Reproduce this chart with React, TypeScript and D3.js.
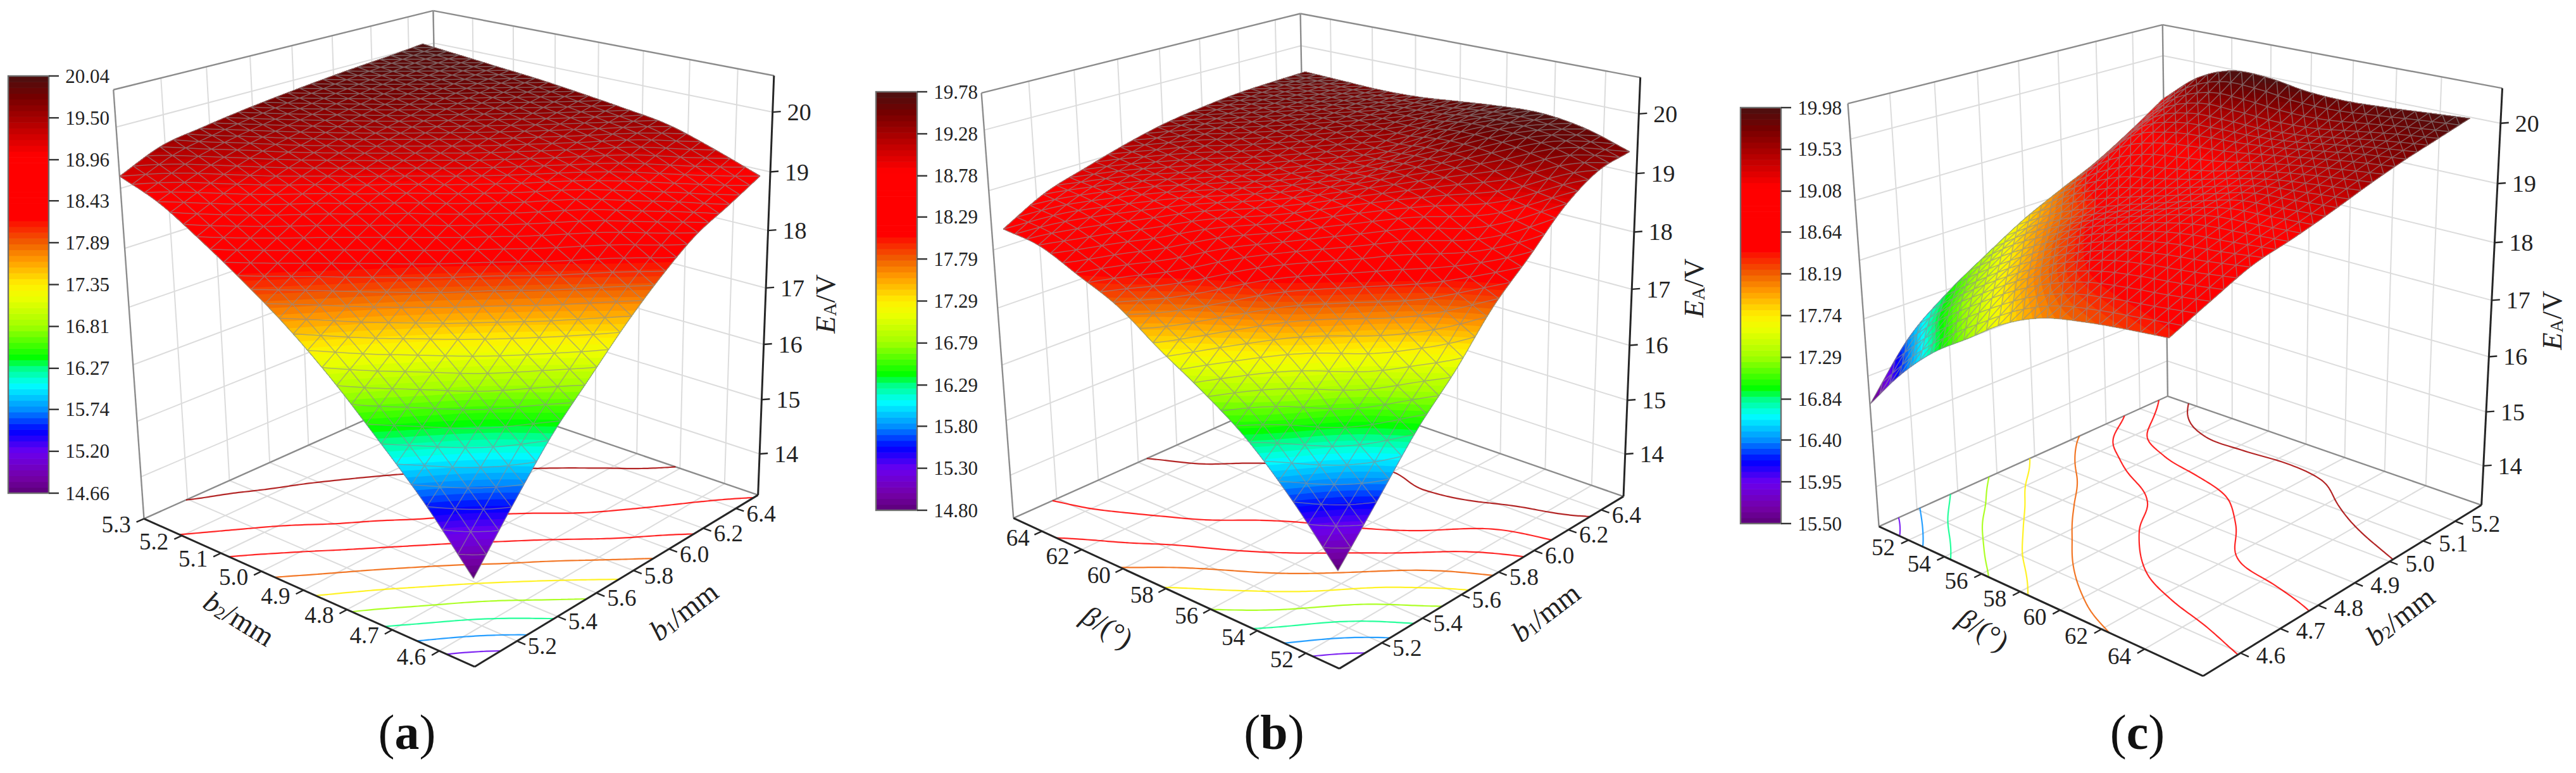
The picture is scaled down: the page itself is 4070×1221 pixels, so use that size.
import * as d3 from 'd3';

const WIDTH = 4070;
const HEIGHT = 1221;
const FONT = '"Liberation Serif", "Times New Roman", serif';

// surface values, rows run along v, columns along u
const Z_GRID_A = [
  [14.66, 15.5, 16.28, 16.9, 17.5, 18.02, 18.45, 18.72, 19.0],
  [15.55, 16.2, 16.85, 17.45, 18.0, 18.48, 18.8, 19.05, 19.28],
  [16.3, 16.9, 17.45, 18.0, 18.45, 18.85, 19.12, 19.35, 19.52],
  [17.0, 17.5, 18.0, 18.45, 18.82, 19.1, 19.32, 19.5, 19.64],
  [17.6, 18.05, 18.48, 18.85, 19.1, 19.3, 19.48, 19.62, 19.74],
  [18.1, 18.5, 18.87, 19.12, 19.32, 19.48, 19.62, 19.74, 19.83],
  [18.55, 18.88, 19.15, 19.35, 19.5, 19.62, 19.74, 19.83, 19.9],
  [18.95, 19.22, 19.42, 19.55, 19.66, 19.76, 19.84, 19.91, 19.97],
  [19.2, 19.5, 19.62, 19.72, 19.8, 19.87, 19.93, 19.98, 20.04],
];
const Z_GRID_B = [
  [14.8, 15.6, 16.4, 17.05, 17.79, 18.35, 18.93, 19.3, 19.42],
  [15.65, 16.25, 16.9, 17.55, 18.15, 18.6, 19.05, 19.5, 19.65],
  [16.35, 16.95, 17.55, 18.1, 18.6, 18.95, 19.27, 19.6, 19.75],
  [16.85, 17.45, 18.05, 18.5, 18.85, 19.1, 19.33, 19.6, 19.72],
  [17.28, 17.85, 18.4, 18.72, 18.95, 19.1, 19.28, 19.5, 19.65],
  [17.75, 18.2, 18.66, 18.88, 19.02, 19.2, 19.38, 19.5, 19.58],
  [18.05, 18.5, 18.83, 19.0, 19.15, 19.32, 19.45, 19.52, 19.56],
  [18.33, 18.7, 18.95, 19.12, 19.3, 19.42, 19.5, 19.55, 19.58],
  [18.42, 18.8, 19.02, 19.22, 19.38, 19.48, 19.55, 19.58, 19.6],
];
const Z_GRID_C = [
  [15.5, 16.25, 16.85, 17.3, 17.75, 18.05, 18.2, 18.3, 18.38],
  [16.4, 16.95, 17.4, 17.82, 18.15, 18.38, 18.5, 18.58, 18.68],
  [16.95, 17.4, 17.82, 18.17, 18.45, 18.66, 18.78, 18.86, 18.96],
  [17.38, 17.82, 18.15, 18.45, 18.68, 18.88, 19.02, 19.07, 19.12],
  [17.78, 18.13, 18.4, 18.62, 18.82, 19.02, 19.2, 19.25, 19.3],
  [18.1, 18.5, 18.78, 18.9, 19.03, 19.2, 19.33, 19.42, 19.5],
  [18.4, 18.98, 19.2, 19.28, 19.32, 19.4, 19.5, 19.6, 19.68],
  [18.78, 19.33, 19.55, 19.55, 19.52, 19.55, 19.65, 19.75, 19.83],
  [19.2, 19.72, 19.98, 19.98, 19.88, 19.85, 19.88, 19.93, 19.98],
];

const B1_TICKS = [5.2, 5.4, 5.6, 5.8, 6.0, 6.2, 6.4];
const B2_TICKS_A = [4.6, 4.7, 4.8, 4.9, 5.0, 5.1, 5.2, 5.3];
const B2_TICKS_C = [4.6, 4.7, 4.8, 4.9, 5.0, 5.1, 5.2];
const BETA_TICKS = [52, 54, 56, 58, 60, 62, 64];
const Z_TICKS = [14, 15, 16, 17, 18, 19, 20];

const BAR_A = [14.66, 15.2, 15.74, 16.27, 16.81, 17.35, 17.89, 18.43, 18.96, 19.5, 20.04];
const BAR_B = [14.8, 15.3, 15.8, 16.29, 16.79, 17.29, 17.79, 18.29, 18.78, 19.28, 19.78];
const BAR_C = [15.5, 15.95, 16.4, 16.84, 17.29, 17.74, 18.19, 18.64, 19.08, 19.53, 19.98];

const COLOR_STOPS = [0, 0.04, 0.1, 0.15, 0.2, 0.26, 0.3, 0.325, 0.4, 0.47, 0.5, 0.56, 0.6, 0.66, 0.81, 0.895, 0.95, 1];
const COLOR_VALUES = ['#5c0078', '#7500a8', '#6a00f0', '#0000ff', '#008cff', '#00ffff', '#00ff88', '#00ff00', '#a0ff00', '#eeff00', '#fff000', '#ff9a00', '#f06000', '#ff0000', '#ff0000', '#aa0000', '#750000', '#4a1010'];

const rainbow = d3.scaleLinear<string>().domain(COLOR_STOPS).range(COLOR_VALUES);

const FINE = 100;
const MESH = 25;
const BANDS = 72;

const PANELS = [
  {
    grid: Z_GRID_A,
    // [u, v, w, x, y] of the box corners, the camera is fitted to these
    corners: [[0, 0, 0, 747, 1060], [1, 0, 0, 1194, 785], [0, 1, 0, 226, 820], [1, 1, 0, 699, 608], [0, 1, 1, 179, 144], [1, 0, 1, 1225, 119], [1, 1, 1, 682, 17], [0, 0, 0.194, 753, 904]],
    uDomain: [5, 6.54], uTicks: B1_TICKS, vDomain: [4.527, 5.3], vTicks: B2_TICKS_A, zDomain: [13.23, 20.6],
    uFormat: '.1f', vFormat: '.1f',
    uEdge: 0, wallU: 1, zCorner: [1, 0], leftCorner: [0, 1], spanU: 0.96, spanV: 1,
    uLabel: [40, 8], vLabel: [-44, 9],
    uTitle: { x: 1080, y: 965, r: -37, base: 'b', sub: '1', tail: '/mm' },
    vTitle: { x: 378, y: 977, r: 32, base: 'b', sub: '2', tail: '/mm' },
    zTitle: [1304, 480],
    bar: BAR_A, barX: 13, barY: 120, barW: 64, barH: 659,
    caption: 'a', captionX: 643, captionY: 1156,
  },
  {
    grid: Z_GRID_B,
    corners: [[0, 0, 0, 2116, 1060], [1, 0, 0, 2562, 787], [0, 1, 0, 1600, 820], [1, 1, 0, 2069, 608], [0, 1, 1, 1551, 148], [1, 0, 1, 2594, 122], [1, 1, 1, 2052, 22], [0, 0, 0.216, 2115, 895]],
    uDomain: [5, 6.54], uTicks: B1_TICKS, vDomain: [50.67, 65.48], vTicks: BETA_TICKS, zDomain: [13.2, 20.6],
    uFormat: '.1f', vFormat: 'd',
    uEdge: 0, wallU: 1, zCorner: [1, 0], leftCorner: [0, 1], spanU: 0.97, spanV: 0.96,
    uLabel: [40, 8], vLabel: [-38, 10],
    uTitle: { x: 2442, y: 967, r: -37, base: 'b', sub: '1', tail: '/mm' },
    vTitle: { x: 1750, y: 990, r: 32, base: 'β', sub: '', tail: '/(°)' },
    zTitle: [2676, 455],
    bar: BAR_B, barX: 1384, barY: 145, barW: 65, barH: 661,
    caption: 'b', captionX: 2013, captionY: 1156,
  },
  {
    grid: Z_GRID_C,
    corners: [[0, 0, 0, 2969, 832], [1, 0, 0, 3480, 1068], [0, 1, 0, 3425, 626], [1, 1, 0, 3921, 797], [0, 0, 1, 2920, 163], [1, 1, 1, 3954, 140], [0, 1, 1, 3416, 39]],
    uDomain: [50.3, 66.6], uTicks: BETA_TICKS, vDomain: [4.51, 5.285], vTicks: B2_TICKS_C, zDomain: [13.26, 20.57],
    uFormat: 'd', vFormat: '.1f',
    uEdge: 1, wallU: 0, zCorner: [1, 1], leftCorner: [0, 0], spanU: 0.92, spanV: 1,
    uLabel: [-40, 11], vLabel: [48, 4],
    uTitle: { x: 3134, y: 994, r: 32, base: 'β', sub: '', tail: '/(°)' },
    vTitle: { x: 3792, y: 973, r: -37, base: 'b', sub: '2', tail: '/mm' },
    zTitle: [4032, 506],
    bar: BAR_C, barX: 2750, barY: 170, barW: 64, barH: 657,
    caption: 'c', captionX: 3377, captionY: 1156,
  },
];

// least squares fit of a 3x4 projection from the box corners
function fitCamera(corners: number[][]) {
  const ox = d3.mean(corners, (c) => c[3]) as number;
  const oy = d3.mean(corners, (c) => c[4]) as number;
  const rows: number[][] = [];
  corners.forEach(([u, v, w, px, py]) => {
    const x = (px - ox) / 1000;
    const y = (py - oy) / 1000;
    rows.push([u, v, w, 1, 0, 0, 0, 0, -x * u, -x * v, -x * w, x]);
    rows.push([0, 0, 0, 0, u, v, w, 1, -y * u, -y * v, -y * w, y]);
  });
  const n = 11;
  const m = d3.range(n).map((i) => d3.range(n + 1).map((j) => d3.sum(rows, (r) => r[i] * r[j])));
  for (let i = 0; i < n; i++) {
    let best = i;
    for (let k = i + 1; k < n; k++) if (Math.abs(m[k][i]) > Math.abs(m[best][i])) best = k;
    [m[i], m[best]] = [m[best], m[i]];
    for (let k = 0; k < n; k++) {
      if (k === i) continue;
      const f = m[k][i] / m[i][i];
      for (let j = i; j <= n; j++) m[k][j] -= f * m[i][j];
    }
  }
  const p = d3.range(n).map((i) => m[i][n] / m[i][i]);
  return (u: number, v: number, w: number): [number, number] => {
    const d = p[8] * u + p[9] * v + p[10] * w + 1;
    return [
      ((p[0] * u + p[1] * v + p[2] * w + p[3]) / d) * 1000 + ox,
      ((p[4] * u + p[5] * v + p[6] * w + p[7]) / d) * 1000 + oy,
    ];
  };
}

function catmull(a: number[], t: number) {
  const pos = t * (a.length - 1);
  const i = Math.min(Math.floor(pos), a.length - 2);
  const f = pos - i;
  const p1 = a[i];
  const p2 = a[i + 1];
  const p0 = i > 0 ? a[i - 1] : 2 * p1 - p2;
  const p3 = i + 2 < a.length ? a[i + 2] : 2 * p2 - p1;
  return 0.5 * (2 * p1 + (p2 - p0) * f + (2 * p0 - 5 * p1 + 4 * p2 - p3) * f * f + (3 * p1 - p0 - 3 * p2 + p3) * f * f * f);
}

// the typed grid is only smoothed here so the shaded surface has no facets
function refine(grid: number[][]) {
  const steps = d3.range(FINE + 1).map((i) => i / FINE);
  const along = grid.map((row) => steps.map((t) => catmull(row, t)));
  return steps.map((t) => steps.map((_, c) => catmull(along.map((row) => row[c]), t)));
}

const line = d3.line();

function Segment({ a, b, stroke, w }: { a: [number, number]; b: [number, number]; stroke: string; w: number }) {
  return <line x1={a[0]} y1={a[1]} x2={b[0]} y2={b[1]} stroke={stroke} strokeWidth={w} />;
}

function Title({ t }: { t: { x: number; y: number; r: number; base: string; sub: string; tail: string } }) {
  return (
    <text transform={`translate(${t.x},${t.y}) rotate(${t.r})`} textAnchor="middle" dominantBaseline="central" fontSize={46} fill="#222">
      <tspan fontStyle="italic">{t.base}</tspan>
      {t.sub ? <tspan fontSize={28} dy={8}>{t.sub}</tspan> : null}
      <tspan dy={t.sub ? -8 : 0}>{t.tail}</tspan>
    </text>
  );
}

function Panel({ p }: { p: (typeof PANELS)[number] }) {
  const project = fitCamera(p.corners);
  const fine = refine(p.grid);
  const flat = Float64Array.from(fine.flat());
  const size = FINE + 1;
  const barMin = p.bar[0];
  const barMax = p.bar[p.bar.length - 1];
  const colorOf = (z: number) => rainbow((Math.max(barMin, Math.min(barMax, z)) - barMin) / (barMax - barMin));

  const uScale = d3.scaleLinear().domain(p.uDomain).range([0, 1]);
  const vScale = d3.scaleLinear().domain(p.vDomain).range([0, 1]);
  const wScale = d3.scaleLinear().domain(p.zDomain).range([0, 1]);

  const zAt = (u: number, v: number) => {
    const x = Math.min(u * FINE, FINE - 1e-6);
    const y = Math.min(v * FINE, FINE - 1e-6);
    const i = Math.floor(x);
    const j = Math.floor(y);
    const fx = x - i;
    const fy = y - j;
    return (fine[j][i] * (1 - fx) + fine[j][i + 1] * fx) * (1 - fy) + (fine[j + 1][i] * (1 - fx) + fine[j + 1][i + 1] * fx) * fy;
  };
  const toUnit = (c: number) => Math.max(0, Math.min(1, (c - 0.5) / FINE));
  const onSurface = (u: number, v: number) => project(u * p.spanU, v * p.spanV, wScale(zAt(u, v)));
  const onBorder = (pt: number[]) => pt[0] === 0 || pt[1] === 0 || pt[0] === size || pt[1] === size;

  // filled bands, each one is everything above its level so they nest
  const step = (barMax - barMin) / BANDS;
  const levels = d3.range(BANDS).map((i) => barMin + i * step);
  const contourGen = d3.contours().size([size, size]);
  const bands = levels.map((lvl, i) => {
    const shape = contourGen.contour(flat as unknown as number[], i === 0 ? barMin - 5 : lvl);
    const d = shape.coordinates
      .flat()
      .map((ring) => line(ring.map((pt) => onSurface(toUnit(pt[0]), toUnit(pt[1])))) + 'Z')
      .join('');
    return <path key={i} d={d} fill={colorOf(lvl + step / 2)} fillRule="evenodd" stroke="none" />;
  });

  // contour lines on the floor at the colour bar's levels
  const floorLine = d3
    .line<number[]>()
    .defined((pt) => !onBorder(pt))
    .x((pt) => project(toUnit(pt[0]), toUnit(pt[1]), 0)[0])
    .y((pt) => project(toUnit(pt[0]), toUnit(pt[1]), 0)[1]);
  const floorContours = p.bar.slice(1, -1).map((lvl) => {
    const shape = contourGen.contour(flat as unknown as number[], lvl);
    const d = shape.coordinates.flat().map((ring) => floorLine(ring)).join('');
    return <path key={lvl} d={d} fill="none" stroke={colorOf(lvl)} strokeWidth={2.2} opacity={0.85} />;
  });

  // triangle wire mesh: both grid directions and the anti-diagonals
  const stepsPerCell = FINE / MESH;
  const along = d3.range(FINE + 1).map((i) => i / FINE);
  const wires: string[] = [];
  d3.range(MESH + 1).forEach((k) => {
    const t = k / MESH;
    wires.push(line(along.map((s) => onSurface(t, s))) as string);
    wires.push(line(along.map((s) => onSurface(s, t))) as string);
  });
  d3.range(1, 2 * MESH).forEach((k) => {
    const idx = k * stepsPerCell;
    const pts = d3.range(FINE + 1)
      .filter((i) => idx - i >= 0 && idx - i <= FINE)
      .map((i) => onSurface(i / FINE, (idx - i) / FINE));
    wires.push(line(pts) as string);
  });

  const uGrid = p.uTicks.map((t) => uScale(t));
  const vGrid = p.vTicks.map((t) => vScale(t));
  const wGrid = Z_TICKS.map((t) => wScale(t));
  const lightGrid = '#dcdcdc';
  const rim = '#8c8c8c';
  const axis = '#262626';
  const wallV = 1;
  const wallU = p.wallU;
  const [zu, zv] = p.zCorner;
  const [lu, lv] = p.leftCorner;

  const barScale = d3.scaleLinear().domain([barMin, barMax]).range([p.barY + p.barH, p.barY]);
  const titleZ = p.zTitle;
  const tickOut = p.uEdge ? 0.022 : -0.022;

  return (
    <g fontFamily={FONT}>
      {/* walls */}
      {uGrid.map((u, i) => <Segment key={'wu' + i} a={project(u, wallV, 0)} b={project(u, wallV, 1)} stroke={lightGrid} w={2} />)}
      {vGrid.map((v, i) => <Segment key={'wv' + i} a={project(wallU, v, 0)} b={project(wallU, v, 1)} stroke={lightGrid} w={2} />)}
      {wGrid.map((w, i) => (
        <g key={'wz' + i}>
          <Segment a={project(0, wallV, w)} b={project(1, wallV, w)} stroke={lightGrid} w={2} />
          <Segment a={project(wallU, 0, w)} b={project(wallU, 1, w)} stroke={lightGrid} w={2} />
        </g>
      ))}
      {/* floor */}
      {uGrid.map((u, i) => <Segment key={'fu' + i} a={project(u, 0, 0)} b={project(u, 1, 0)} stroke={lightGrid} w={2} />)}
      {vGrid.map((v, i) => <Segment key={'fv' + i} a={project(0, v, 0)} b={project(1, v, 0)} stroke={lightGrid} w={2} />)}
      {/* box outline behind the surface */}
      <Segment a={project(0, wallV, 0)} b={project(1, wallV, 0)} stroke={rim} w={2.4} />
      <Segment a={project(wallU, 0, 0)} b={project(wallU, 1, 0)} stroke={rim} w={2.4} />
      <Segment a={project(0, wallV, 1)} b={project(1, wallV, 1)} stroke={rim} w={2.4} />
      <Segment a={project(wallU, 0, 1)} b={project(wallU, 1, 1)} stroke={rim} w={2.4} />
      <Segment a={project(wallU, wallV, 0)} b={project(wallU, wallV, 1)} stroke={rim} w={2.4} />
      <Segment a={project(lu, lv, 0)} b={project(lu, lv, 1)} stroke={rim} w={2.4} />
      {floorContours}
      {bands}
      <path d={wires.join('')} fill="none" stroke="#8e8e8e" strokeWidth={1.5} opacity={0.65} />
      {/* axes in front */}
      <Segment a={project(0, 0, 0)} b={project(1, 0, 0)} stroke={axis} w={3} />
      <Segment a={project(p.uEdge, 0, 0)} b={project(p.uEdge, 1, 0)} stroke={axis} w={3} />
      <Segment a={project(zu, zv, 0)} b={project(zu, zv, 1)} stroke={axis} w={3} />
      {p.uTicks.map((t, i) => {
        const base = project(uScale(t), 0, 0);
        return (
          <g key={'ut' + i}>
            <Segment a={base} b={project(uScale(t), -0.022, 0)} stroke={axis} w={2.4} />
            <text x={base[0] + p.uLabel[0]} y={base[1] + p.uLabel[1]} textAnchor="middle" dominantBaseline="central" fontSize={37} fill="#222">{d3.format(p.uFormat)(t)}</text>
          </g>
        );
      })}
      {p.vTicks.map((t, i) => {
        const base = project(p.uEdge, vScale(t), 0);
        return (
          <g key={'vt' + i}>
            <Segment a={base} b={project(p.uEdge + tickOut, vScale(t), 0)} stroke={axis} w={2.4} />
            <text x={base[0] + p.vLabel[0]} y={base[1] + p.vLabel[1]} textAnchor="middle" dominantBaseline="central" fontSize={37} fill="#222">{d3.format(p.vFormat)(t)}</text>
          </g>
        );
      })}
      {Z_TICKS.map((t, i) => {
        const base = project(zu, zv, wScale(t));
        return (
          <g key={'zt' + i}>
            <line x1={base[0]} y1={base[1]} x2={base[0] + 13} y2={base[1] - 1} stroke={axis} strokeWidth={2.4} />
            <text x={base[0] + 23} y={base[1]} dominantBaseline="central" fontSize={38} fill="#222">{t}</text>
          </g>
        );
      })}
      <Title t={p.uTitle} />
      <Title t={p.vTitle} />
      <text transform={`translate(${titleZ[0]},${titleZ[1]}) rotate(-90)`} textAnchor="middle" dominantBaseline="central" fontSize={45} fill="#222">
        <tspan fontStyle="italic">E</tspan>
        <tspan fontSize={29} dy={7}>A</tspan>
        <tspan dy={-7}>/V</tspan>
      </text>
      {/* colour bar */}
      {levels.map((lvl, i) => (
        <rect key={'b' + i} x={p.barX} y={barScale(lvl + step)} width={p.barW} height={barScale(lvl) - barScale(lvl + step) + 0.6} fill={colorOf(lvl + step / 2)} />
      ))}
      <rect x={p.barX} y={p.barY} width={p.barW} height={p.barH} fill="none" stroke="#6e6e6e" strokeWidth={2.4} />
      {p.bar.map((v) => (
        <g key={'bt' + v}>
          <line x1={p.barX + p.barW} y1={barScale(v)} x2={p.barX + p.barW + 16} y2={barScale(v)} stroke="#333" strokeWidth={2.4} />
          <text x={p.barX + p.barW + 96} y={barScale(v)} textAnchor="end" dominantBaseline="central" fontSize={31} fill="#222">{v.toFixed(2)}</text>
        </g>
      ))}
      <text x={p.captionX} y={p.captionY} textAnchor="middle" dominantBaseline="central" fontSize={78} fill="#111">
        (<tspan fontWeight="bold">{p.caption}</tspan>)
      </text>
    </g>
  );
}

export default function App() {
  return (
    <svg width={WIDTH} height={HEIGHT} viewBox={`0 0 ${WIDTH} ${HEIGHT}`} style={{ position: 'absolute', left: 0, top: 0, display: 'block', background: '#fff' }}>
      {PANELS.map((p) => <Panel key={p.caption} p={p} />)}
    </svg>
  );
}
